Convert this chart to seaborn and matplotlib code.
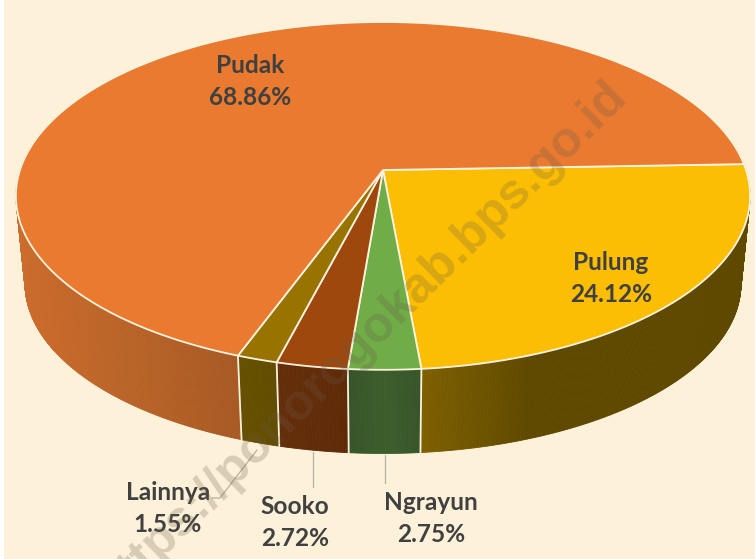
# 3D style pie of kecamatan shares
import numpy as np
import matplotlib
matplotlib.use('Agg')
import matplotlib.pyplot as plt
import seaborn as sns

# data, clockwise from the right edge
names = ['Pulung', 'Ngrayun', 'Sooko', 'Lainnya', 'Pudak']
shares = [24.12, 2.75, 2.72, 1.55, 68.86]
top_colors = ['#FCBE02', '#70AD47', '#9E480E', '#997300', '#E97A30']
side_stops = [['#7E5F00', '#5F4900', '#5F4900', '#5F4900'],
              ['#37552A', '#3C5E2B', '#37552A'],
              ['#652E0A', '#5E2A08'],
              ['#665000', '#624C00'],
              ['#CB6C2C', '#A85A24']]
label_xy = [(611, 278.5), (431, 518.5), (295, 522.5), (168, 508.5), (250, 81.5)]

bg = '#FDF2D9'
edge = '#FBF3DF'
text_col = '#404040'

sns.set_theme(style='white')
plt.rcParams['font.family'] = ['Lato', 'DejaVu Sans']

# the picture is in perspective, disc centre is not the ellipse centre
cx, cy = 383, 170
s = 363
c = 0.149
b = -144.7
start = 2.0
shrink = 0.975


def top_pt(deg):
    t = np.radians(deg)
    u, v = np.cos(t), np.sin(t)
    return cx + s * u / (1 + c * v), (cy + b * v) / (1 + c * v)


def bottom_pt(deg):
    x, y = top_pt(deg)
    return cx + (x - cx) * shrink, 284 + (y - 196) * shrink


fig = plt.figure(figsize=(7.55, 5.59), dpi=100, facecolor='white')
ax = fig.add_axes([4 / 755, 0, 751 / 755, 1])
ax.set_facecolor(bg)
ax.set_xlim(4, 755)
ax.set_ylim(559, 0)
for sp in ax.spines.values():
    sp.set_visible(False)
ax.set_xticks([])
ax.set_yticks([])

# slice limits in degrees
ends = start - np.cumsum(shares) * 3.6
begins = np.concatenate([[start], ends[:-1]])

# side walls first, only the front part shows
for i in range(len(shares)):
    a0, a1 = begins[i], ends[i]
    # keep only the front half of the wall
    if i == len(shares) - 1:
        a1 = -200
    if i == 0:
        a0 = max(a0, 10)
    n = max(int(abs(a1 - a0) * 3), 8)
    steps = np.linspace(a0, a1, n + 1)
    xs_mid = top_pt(steps)[0]
    pal = sns.blend_palette(side_stops[i], 64)
    lo, hi = xs_mid.min(), xs_mid.max()
    for k in range(n):
        tx, ty = top_pt(steps[k:k + 2])
        bx, by = bottom_pt(steps[k:k + 2])
        f = (0.5 * (tx[0] + tx[1]) - lo) / max(hi - lo, 1)
        col = pal[min(int(f * 64), 63)]
        ax.fill([tx[0], tx[1], bx[1], bx[0]], [ty[0], ty[1], by[1], by[0]],
                facecolor=col, edgecolor=col, lw=0.6, zorder=2)

# separators on the wall
for a in ends[:4]:
    tx, ty = top_pt(a)
    bx, by = bottom_pt(a)
    ax.plot([tx, bx], [ty, by], color=edge, lw=1.3, zorder=3)

# top face
for i in range(len(shares)):
    steps = np.linspace(begins[i], ends[i], max(int(abs(shares[i]) * 8), 6))
    x, y = top_pt(steps)
    ax.fill(np.r_[cx, x], np.r_[cy, y], facecolor=top_colors[i], edgecolor=edge,
            lw=1.3, joinstyle='round', zorder=4)

# leader lines
ax.plot([257, 220, 212], [450, 498, 498], color='#B5B0A5', lw=0.9, zorder=3)
ax.plot([313, 313], [452, 487], color='#B5B0A5', lw=0.9, zorder=3)
ax.plot([385, 385], [455, 483], color='#B5B0A5', lw=0.9, zorder=3)

# labels
for name, val, (x, y) in zip(names, shares, label_xy):
    ax.text(x, y, f'{name}\n{val:.2f}%', ha='center', va='center', fontsize=17.6,
            fontweight='bold', color=text_col, linespacing=1.52, zorder=6)

# watermark, runs off the bottom edge like the original
ax.text(362, 342, 'https://ponorogokab.bps.go.id', rotation=44.5, ha='center', va='center',
        rotation_mode='anchor', fontsize=36, fontweight='bold', family='Liberation Sans',
        color='#6B5A48', alpha=0.25, zorder=7)

fig.savefig('out.png', dpi=100, facecolor='white')
